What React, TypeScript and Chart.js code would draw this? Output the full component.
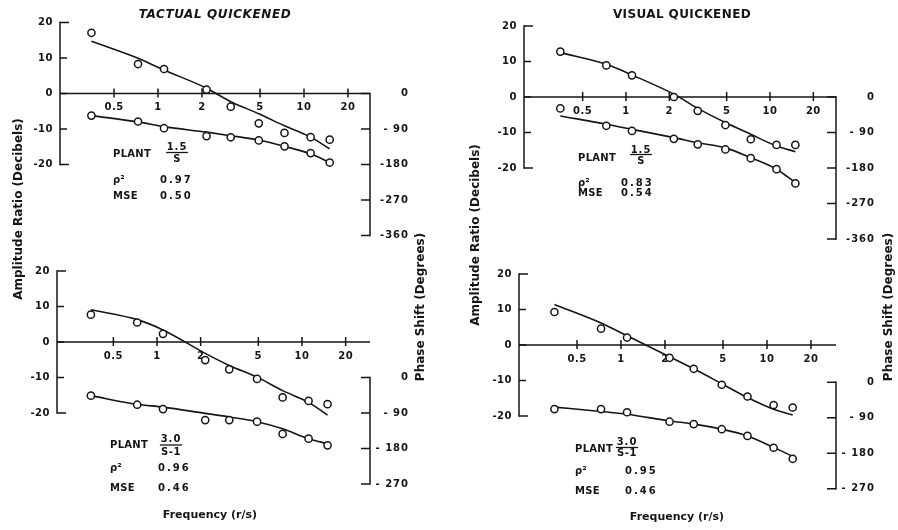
import React, { useEffect, useRef } from "react";
import { Chart, registerables } from "chart.js";

Chart.register(...registerables);

// ---------- data ----------
const FREQUENCIES = [0.35, 0.73, 1.1, 2.15, 3.15, 4.9, 7.35, 11.1, 15.0];
const X_TICKS = [0.5, 1, 2, 5, 10, 20];
const X_TICK_LABELS = ["0.5", "1", "2", "5", "10", "20"];
const DB_TICKS = [20, 10, 0, -10, -20];
const DB_TICK_LABELS = ["20", "10", "0", "-10", "-20"];
const PHASE_TICKS_TOP = [0, -90, -180, -270, -360];
const PHASE_LABELS_TOP = ["0", "- 90", "-180", "-270", "-360"];
const PHASE_TICKS_BOTTOM = [0, -90, -180, -270];
const PHASE_LABELS_BOTTOM = ["0", "- 90", "- 180", "- 270"];

// Tactual quickened, plant 1.5/S
const TQ_AMP = [17.1, 8.3, 6.9, 1.1, -3.7, -8.4, -11.1, -12.3, -13.0];
const TQ_AMP_FIT = [14.7, 9.9, 6.6, 1.5, -2.3, -5.7, -9.1, -12.3, -15.6];
const TQ_PHASE = [-56, -71, -88, -108, -111, -119, -134, -151, -175];
const TQ_PHASE_FIT = [-56, -72, -84, -98, -107, -118, -134, -153, -175];

// Visual quickened, plant 1.5/S
const VQ_AMP = [12.8, 8.9, 6.1, 0.0, -3.9, -7.9, -11.9, -13.5, -13.5];
const VQ_AMP_FIT = [12.5, 9.2, 6.2, 0.8, -3.2, -7.2, -10.5, -13.8, -15.4];
const VQ_PHASE = [-29, -73, -86, -106, -120, -133, -155, -183, -219];
const VQ_PHASE_FIT = [-48, -69, -82, -103, -116, -129, -154, -183, -217];

// Tactual, plant 3.0/(S-1)
const TU_AMP = [7.7, 5.5, 2.3, -5.1, -7.7, -10.4, -15.6, -16.6, -17.5];
const TU_AMP_FIT = [9.1, 6.3, 3.4, -3.2, -6.6, -9.9, -13.7, -17.0, -20.6];
const TU_PHASE = [-46, -69, -80, -108, -108, -112, -143, -155, -172];
const TU_PHASE_FIT = [-46, -68, -75, -91, -100, -112, -130, -155, -168];

// Visual, plant 3.0/(S-1)
const VU_AMP = [9.3, 4.6, 2.1, -3.6, -6.7, -11.2, -14.5, -16.9, -17.6];
const VU_AMP_FIT = [11.4, 6.2, 2.6, -3.3, -6.7, -10.9, -14.8, -18.1, -19.7];
const VU_PHASE = [-68, -68, -76, -100, -106, -119, -136, -166, -194];
const VU_PHASE_FIT = [-63, -74, -81, -98, -106, -119, -136, -165, -188];

// ---------- layout ----------
const W = 898;
const H = 530;
const DB_MAX = 24;
const DB_MIN = -44;
const DEG_PER_DB = 9;
const INK = "#151515";
const FONT = "'DejaVu Sans', 'Liberation Sans', sans-serif";

type Frame = {
  x1: number; ppdec: number; xLeft: number; xRight: number;
  y0: number; ppd: number; phaseZeroDb: number;
};
type Note = {
  plantDx: number; plantDy: number; fracDx: number; numDy: number; barDy: number; denDy: number;
  rhoDy: number; valDx: number; mseDy: number;
};
type Txt = { text: string; x: number; y: number; font: string; spacing?: number; rotate?: boolean };
type Panel = {
  amp: number[]; ampFit: number[]; phase: number[]; phaseFit: number[];
  phaseTicks: number[]; phaseLabels: string[];
  plantNum: string; plantDen: string; rho: string; mse: string;
  frame: Frame; note: Note; texts: Txt[];
};

const PANELS: Panel[] = [
  {
    amp: TQ_AMP, ampFit: TQ_AMP_FIT, phase: TQ_PHASE, phaseFit: TQ_PHASE_FIT,
    phaseTicks: PHASE_TICKS_TOP, phaseLabels: PHASE_LABELS_TOP,
    plantNum: "1.5", plantDen: "S", rho: "0.97", mse: "0.50",
    frame: { x1: 158, ppdec: 146, xLeft: 60, xRight: 370, y0: 93.5, ppd: 3.55, phaseZeroDb: 0 },
    note: { plantDx: 53, plantDy: 60.5, fracDx: 117, numDy: 53.5, barDy: 59, denDy: 66, rhoDy: 86.5, valDx: 100, mseDy: 102.5 },
    texts: [
      { text: "TACTUAL QUICKENED", x: 215, y: 15, font: `italic bold 12px ${FONT}`, spacing: 0.6 },
      { text: "Amplitude Ratio (Decibels)", x: 19, y: 209, font: `bold 12px ${FONT}`, rotate: true },
      { text: "Phase Shift (Degrees)", x: 421, y: 307, font: `bold 12px ${FONT}`, rotate: true },
    ],
  },
  {
    amp: VQ_AMP, ampFit: VQ_AMP_FIT, phase: VQ_PHASE, phaseFit: VQ_PHASE_FIT,
    phaseTicks: PHASE_TICKS_TOP, phaseLabels: PHASE_LABELS_TOP,
    plantNum: "1.5", plantDen: "S", rho: "0.83", mse: "0.54",
    frame: { x1: 626, ppdec: 144, xLeft: 524, xRight: 836, y0: 97, ppd: 3.55, phaseZeroDb: 0 },
    note: { plantDx: 54, plantDy: 61, fracDx: 117, numDy: 53, barDy: 57.5, denDy: 64, rhoDy: 86, valDx: 97, mseDy: 96 },
    texts: [
      { text: "VISUAL QUICKENED", x: 682, y: 15, font: `bold 12px ${FONT}`, spacing: 0.4 },
      { text: "Amplitude Ratio (Decibels)", x: 476, y: 235, font: `bold 12px ${FONT}`, rotate: true },
      { text: "Phase Shift (Degrees)", x: 889, y: 307, font: `bold 12px ${FONT}`, rotate: true },
    ],
  },
  {
    amp: TU_AMP, ampFit: TU_AMP_FIT, phase: TU_PHASE, phaseFit: TU_PHASE_FIT,
    phaseTicks: PHASE_TICKS_BOTTOM, phaseLabels: PHASE_LABELS_BOTTOM,
    plantNum: "3.0", plantDen: "S-1", rho: "0.96", mse: "0.46",
    frame: { x1: 157, ppdec: 145, xLeft: 57, xRight: 370, y0: 342, ppd: 3.55, phaseZeroDb: -10 },
    note: { plantDx: 53, plantDy: 103, fracDx: 114, numDy: 97, barDy: 103, denDy: 110, rhoDy: 126, valDx: 101, mseDy: 146 },
    texts: [
      { text: "Frequency (r/s)", x: 210, y: 515, font: `bold 11px ${FONT}` },
    ],
  },
  {
    amp: VU_AMP, ampFit: VU_AMP_FIT, phase: VU_PHASE, phaseFit: VU_PHASE_FIT,
    phaseTicks: PHASE_TICKS_BOTTOM, phaseLabels: PHASE_LABELS_BOTTOM,
    plantNum: "3.0", plantDen: "S-1", rho: "0.95", mse: "0.46",
    frame: { x1: 621, ppdec: 146, xLeft: 519, xRight: 836, y0: 345, ppd: 3.55, phaseZeroDb: -10.5 },
    note: { plantDx: 56, plantDy: 104, fracDx: 108, numDy: 97, barDy: 102.5, denDy: 108.5, rhoDy: 126, valDx: 106, mseDy: 146 },
    texts: [
      { text: "Frequency (r/s)", x: 677, y: 517, font: `bold 11px ${FONT}` },
    ],
  },
];

// ---------- drawing helpers ----------
function text(ctx: CanvasRenderingContext2D, s: string, x: number, y: number, font: string,
  align: CanvasTextAlign = "left", spacing = 0, rotate = false) {
  ctx.save();
  ctx.font = font;
  (ctx as any).letterSpacing = `${spacing}px`;
  ctx.fillStyle = INK;
  ctx.textBaseline = "middle";
  ctx.textAlign = align;
  if (rotate) {
    ctx.translate(x, y);
    ctx.rotate(-Math.PI / 2);
    ctx.fillText(s, 0, 0);
  } else {
    ctx.fillText(s, x, y);
  }
  ctx.restore();
}

function seg(ctx: CanvasRenderingContext2D, x1: number, y1: number, x2: number, y2: number) {
  ctx.beginPath();
  ctx.moveTo(x1, y1);
  ctx.lineTo(x2, y2);
  ctx.stroke();
}

function makePlugin(p: Panel) {
  return {
    id: "bodeAxes",
    beforeDatasetsDraw(chart: any) {
      const ctx: CanvasRenderingContext2D = chart.ctx;
      const { x, y, y2 } = chart.scales;
      const left = chart.chartArea.left;
      const right = chart.chartArea.right;
      ctx.save();
      ctx.strokeStyle = INK;
      ctx.lineWidth = 1.5;
      ctx.lineCap = "butt";
      // amplitude axis
      const yTop = y.getPixelForValue(DB_TICKS[0]);
      const yBot = y.getPixelForValue(DB_TICKS[DB_TICKS.length - 1]);
      seg(ctx, left, yTop - 0.75, left, yBot + 0.75);
      DB_TICKS.forEach((v, i) => {
        const py = y.getPixelForValue(v);
        const len = i === 0 || i === DB_TICKS.length - 1 ? 9 : 7;
        seg(ctx, left, py, left + len, py);
        text(ctx, DB_TICK_LABELS[i], left - 7, py, `bold 10px ${FONT}`, "right", 0.5);
      });
      // frequency axis along 0 dB
      const y0 = y.getPixelForValue(0);
      seg(ctx, left, y0, right, y0);
      X_TICKS.forEach((v, i) => {
        const px = x.getPixelForValue(v);
        seg(ctx, px, y0 - 5, px, y0 + 4);
        text(ctx, X_TICK_LABELS[i], px, y0 + 14, `bold 10px ${FONT}`, "center", 0.5);
      });
      // phase axis
      const pTop = y2.getPixelForValue(p.phaseTicks[0]);
      const pBot = y2.getPixelForValue(p.phaseTicks[p.phaseTicks.length - 1]);
      seg(ctx, right, pTop - 0.75, right, pBot + 0.75);
      p.phaseTicks.forEach((v, i) => {
        const py = y2.getPixelForValue(v);
        seg(ctx, right - 9, py, right, py);
        text(ctx, p.phaseLabels[i], right + 39, py, `bold 10px ${FONT}`, "right", 1);
      });
      ctx.restore();
    },
    afterDatasetsDraw(chart: any) {
      const ctx: CanvasRenderingContext2D = chart.ctx;
      const left = chart.chartArea.left;
      const y0 = chart.scales.y.getPixelForValue(0);
      const n = p.note;
      const f10 = `bold 10px ${FONT}`;
      text(ctx, "PLANT", left + n.plantDx, y0 + n.plantDy, f10, "left", 0.3);
      const cx = left + n.fracDx;
      text(ctx, p.plantNum, cx, y0 + n.numDy, f10, "center", 1);
      text(ctx, p.plantDen, cx, y0 + n.denDy, f10, "center", 0.5);
      ctx.save();
      ctx.font = f10;
      const w = Math.max(ctx.measureText(p.plantNum).width, ctx.measureText(p.plantDen).width) + 4;
      ctx.strokeStyle = INK;
      ctx.lineWidth = 1.3;
      seg(ctx, cx - w / 2, y0 + n.barDy, cx + w / 2, y0 + n.barDy);
      ctx.restore();
      text(ctx, "\u03c1\u00b2", left + n.plantDx, y0 + n.rhoDy, f10, "left", 0);
      text(ctx, p.rho, left + n.valDx, y0 + n.rhoDy, f10, "left", 2);
      text(ctx, "MSE", left + n.plantDx, y0 + n.mseDy, f10, "left", 0.3);
      text(ctx, p.mse, left + n.valDx, y0 + n.mseDy, f10, "left", 2);
      p.texts.forEach((t) => text(ctx, t.text, t.x, t.y, t.font, "center", t.spacing || 0, !!t.rotate));
    },
  };
}

function PanelChart({ panel }: { panel: Panel }) {
  const ref = useRef<HTMLCanvasElement>(null);
  useEffect(() => {
    const f = panel.frame;
    const pts = (vals: number[]) => FREQUENCIES.map((fx, i) => ({ x: fx, y: vals[i] }));
    const pointStyle = {
      showLine: false,
      pointRadius: 3.6,
      pointBorderWidth: 1.5,
      pointBackgroundColor: "#ffffff",
      pointBorderColor: INK,
      borderColor: INK,
      clip: false as any,
    };
    const lineStyle = {
      borderColor: INK,
      borderWidth: 1.6,
      pointRadius: 0,
      fill: false,
      cubicInterpolationMode: "monotone" as const,
      clip: false as any,
    };
    const chart = new Chart(ref.current as HTMLCanvasElement, {
      type: "line",
      data: {
        datasets: [
          { label: "Amplitude ratio (measured)", data: pts(panel.amp), yAxisID: "y", ...pointStyle },
          { label: "Phase shift (measured)", data: pts(panel.phase), yAxisID: "y2", ...pointStyle },
          { label: "Amplitude ratio (model)", data: pts(panel.ampFit), yAxisID: "y", ...lineStyle },
          { label: "Phase shift (model)", data: pts(panel.phaseFit), yAxisID: "y2", ...lineStyle },
        ],
      },
      options: {
        animation: false,
        responsive: false,
        events: [],
        layout: {
          padding: {
            left: f.xLeft,
            right: W - f.xRight,
            top: f.y0 - DB_MAX * f.ppd,
            bottom: H - (f.y0 - DB_MIN * f.ppd),
          },
        },
        plugins: { legend: { display: false }, tooltip: { enabled: false }, title: { display: false } },
        scales: {
          x: {
            type: "logarithmic",
            display: false,
            bounds: "data",
            min: Math.pow(10, (f.xLeft - f.x1) / f.ppdec),
            max: Math.pow(10, (f.xRight - f.x1) / f.ppdec),
          },
          y: { type: "linear", display: false, bounds: "data", min: DB_MIN, max: DB_MAX },
          y2: {
            type: "linear",
            display: false,
            position: "right",
            bounds: "data",
            min: (DB_MIN - f.phaseZeroDb) * DEG_PER_DB,
            max: (DB_MAX - f.phaseZeroDb) * DEG_PER_DB,
          },
        },
      } as any,
      plugins: [makePlugin(panel)],
    });
    return () => chart.destroy();
  }, [panel]);
  return (
    <canvas
      ref={ref}
      width={W}
      height={H}
      style={{ position: "absolute", left: 0, top: 0, width: W, height: H }}
    />
  );
}

export default function App() {
  return (
    <div style={{ position: "absolute", left: 0, top: 0, width: W, height: H, background: "#ffffff", overflow: "hidden" }}>
      {PANELS.map((p, i) => (
        <PanelChart key={i} panel={p} />
      ))}
    </div>
  );
}
